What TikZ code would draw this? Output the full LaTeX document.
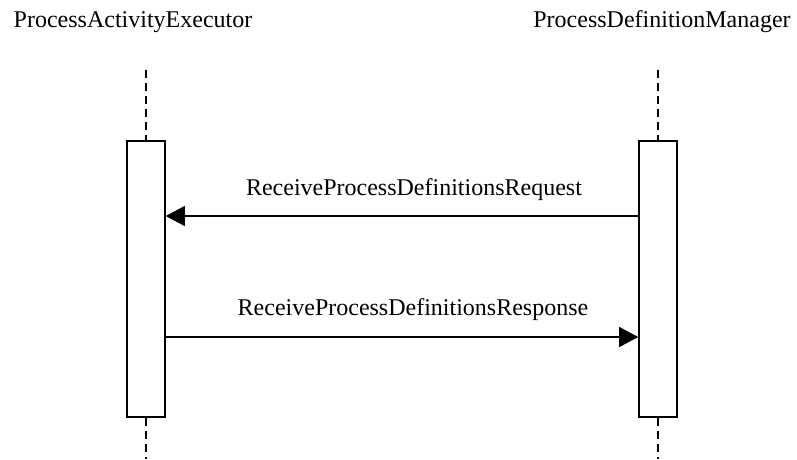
\documentclass[tikz,border=0pt]{standalone}
\usepackage{fontspec}
\setmainfont{Liberation Serif}
\usetikzlibrary{arrows.meta,positioning}

\begin{document}
\begin{tikzpicture}[x=1pt,y=-1pt,
        actor/.style={font=\fontsize{24}{28}\selectfont, anchor=base, inner sep=0pt},
        activ/.style={draw, line width=1.6pt, minimum width=38pt, minimum height=276pt, inner sep=0pt},
        life/.style={dash pattern=on 8pt off 5pt, line width=1.3pt},
        msg/.style={line width=1.2pt, -{Triangle[length=19pt,width=20pt]}},
        lbl/.style={font=\fontsize{24}{28}\selectfont, anchor=base, inner sep=0pt},
    ]
    \useasboundingbox (0,0) rectangle (797,459);
    % lifeline heads
    \node[actor] (paeName) at (133,27) {ProcessActivityExecutor};
    \node[actor] (pdmName) at (662,27) {ProcessDefinitionManager};
    % activation boxes
    \node[activ] (pae) at (146,279) {};
    \node[activ] (pdm) at (658,279) {};
    \coordinate (paeTop) at (146,70);
    \coordinate (paeBot) at (146,459);
    \coordinate (pdmTop) at (658,70);
    \coordinate (pdmBot) at (658,459);
    \draw[life] (paeTop) -- (pae.north);
    \draw[life] (pae.south) -- (paeBot);
    \draw[life] (pdmTop) -- (pdm.north);
    \draw[life] (pdm.south) -- (pdmBot);
    % messages
    \coordinate (req) at (0,216);
    \coordinate (resp) at (0,337);
    \draw[msg] (pdm.west |- req) -- (pae.east |- req);
    \draw[msg] (pae.east |- resp) -- (pdm.west |- resp);
    \node[lbl] (reqText) at (414,195) {ReceiveProcessDefinitionsRequest};
    \node[lbl] (respText) at (413,315) {ReceiveProcessDefinitionsResponse};
\end{tikzpicture}
\end{document}
